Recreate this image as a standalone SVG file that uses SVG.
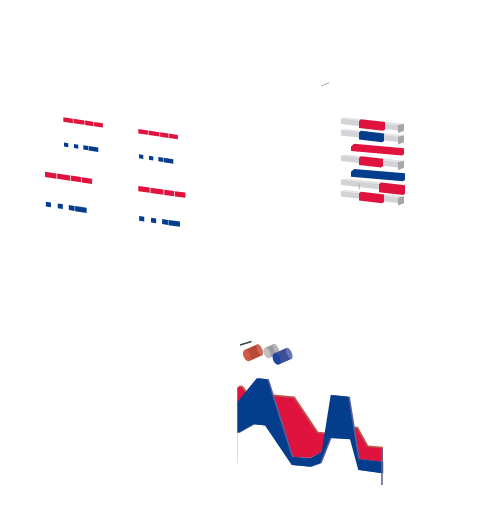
<svg xmlns="http://www.w3.org/2000/svg" width="481" height="508" viewBox="0 0 481 508">
<style>
.r{fill:#e0123e}
.b{fill:#033d8c}
.gf{fill:#d3d3d7}
.gt{fill:#e3e3e7}
.gs{fill:#a6a6ab}
.rt{fill:#ee4a68}
.bt{fill:#2a5aa8}
</style>
<defs>
<g id="dashset">
<rect class="r" x="0" y="0" width="9.6" height="4.4"/>
<rect class="r" x="10.2" y="0" width="11" height="4.4"/>
<rect class="r" x="21.8" y="0" width="8.4" height="4.4"/>
<rect class="r" x="30.8" y="0" width="8.8" height="4.4"/>
<rect class="b" x="0.7" y="25.2" width="4.3" height="4"/>
<rect class="b" x="10.7" y="25.2" width="4.3" height="4"/>
<rect class="b" x="20" y="25" width="4.9" height="4.2"/>
<rect class="b" x="25.3" y="25" width="9.7" height="4.4"/>
</g>
</defs>

<g id="cluster1"><use href="#dashset" transform="translate(63.3,117.3) skewY(8.5)"/></g>
<g id="cluster2"><use href="#dashset" transform="translate(138.3,129) skewY(8.5)"/></g>
<g id="cluster3"><use href="#dashset" transform="translate(45,171.7) skewY(8.5) scale(1.19)"/></g>
<g id="cluster4"><use href="#dashset" transform="translate(138.3,186) skewY(8) scale(1.19)"/></g>

<line x1="321" y1="86" x2="329.3" y2="82.7" stroke="#a8a8ac" stroke-width="1"/>

<g id="bars">
<g id="row1" transform="translate(341,118.5) skewY(6.5)">
<polygon class="gt" points="0,0 4,-1.5 63,-2 57,0"/>
<rect class="gf" x="0" y="0" width="57" height="5.5"/>
<polygon class="gs" points="57,0 63,-2 63,5 57,8"/>
<polygon class="r" points="20,-1.5 44,-1.5 44,6 42,7.5 18,7.5 18,0.5"/>
</g>
<g id="row2" transform="translate(341,130) skewY(6.5)">
<polygon class="gt" points="0,0 4,-1.5 63,-2 57,0"/>
<rect class="gf" x="0" y="0" width="57" height="5.5"/>
<polygon class="gs" points="57,0 63,-2 63,5 57,8"/>
<polygon class="b" points="20,-1.5 43,-1.5 43,6 41,7.5 18,7.5 18,0.5"/>
</g>
<g id="row3" transform="translate(341,142.5) skewY(5.2)">
<polygon class="r" points="13,0 63,0 63,6 61,7.5 10,7.5 10,3"/>
</g>
<g id="row4" transform="translate(341,155.5) skewY(6.5)">
<polygon class="gt" points="0,0 4,-1.5 63,-2 57,0"/>
<rect class="gf" x="0" y="0" width="57" height="5.5"/>
<polygon class="gs" points="57,0 63,-2 63,5 57,8"/>
<polygon class="r" points="20,-1.5 42,-1.5 42,6 40,7.5 18,7.5 18,0.5"/>
</g>
<g id="row5" transform="translate(341,168) skewY(4.8)">
<polygon class="b" points="13,0 64,0 64,6.5 62,8 10,8 10,3"/>
</g>
<g id="row6" transform="translate(341,179.5) skewY(6.5)">
<polygon class="gt" points="0,0 4,-1.5 63,-2 57,0"/>
<rect class="gf" x="0" y="0" width="57" height="5.5"/>
<line x1="18.3" y1="2" x2="18.3" y2="8" stroke="#a8a8ad" stroke-width="0.8"/>
<polygon class="r" points="40,-1.5 64,-1.5 64,7 62,8.5 38,8.5 38,0.5"/>
</g>
<g id="row7" transform="translate(341,191) skewY(6.5)">
<polygon class="gt" points="0,0 4,-1.5 63,-2 57,0"/>
<rect class="gf" x="0" y="0" width="57" height="5.5"/>
<polygon class="gs" points="57,0 63,-2 63,5 57,8"/>
<polygon class="r" points="20,-1.5 43,-1.5 43,6 41,7.5 18,7.5 18,0.5"/>
</g>
</g>

<g id="legend">
<line x1="240" y1="345" x2="251.5" y2="341.5" stroke="#2f4a3a" stroke-width="1.5"/>
<g transform="translate(247,355.5) rotate(-24)">
<rect x="0" y="-6" width="14" height="12" fill="#b94a37"/>
<ellipse cx="14" cy="0" rx="2.5" ry="6" fill="#c86a58"/>
<ellipse cx="0" cy="0" rx="3.5" ry="6" fill="#cf5a43"/>
</g>
<g transform="translate(267,353) rotate(-24)">
<rect x="0" y="-5.5" width="10" height="11" fill="#9c9ca0"/>
<ellipse cx="10" cy="0" rx="2.3" ry="5.5" fill="#b5b5b8"/>
<ellipse cx="0" cy="0" rx="3.2" ry="5.5" fill="#c0c0c3"/>
</g>
<g transform="translate(276.5,359) rotate(-24)">
<rect x="0" y="-6" width="14" height="12" fill="#3c4f98"/>
<ellipse cx="14" cy="0" rx="2.5" ry="6" fill="#6a76b0"/>
<ellipse cx="0" cy="0" rx="3.5" ry="6" fill="#1c44a0"/>
</g>
</g>

<g id="area">
<line x1="237.5" y1="387" x2="237.5" y2="463" stroke="#ead6dc" stroke-width="1"/>
<polygon fill="#bb5a4c" transform="translate(1.2,-1.5)" points="237.3,387.3 241.5,387.3 255,405 272.7,396 293.5,398 317,433.3 325,434 336,430 353.3,428.3 356.7,428.3 367,447 381.7,448.3 381.7,462 358,459 350,420 331,420 322,452 310,458 291.7,456.7 270,400 257,400 237.3,402"/>
<polygon class="r" points="237.3,387.3 241.5,387.3 255,405 272.7,396 293.5,398 317,433.3 325,434 336,430 353.3,428.3 356.7,428.3 367,447 381.7,448.3 381.7,462 358,459 350,420 331,420 322,452 310,458 291.7,456.7 270,400 257,400 237.3,402"/>
<polygon fill="#5d5f9e" transform="translate(1.6,0)" points="237.3,402 256.7,378.3 267.3,379.3 291.7,456.7 310,458.3 321.7,451.7 330.7,395 348.3,396.7 358.3,459 381.7,461.7 381.7,473.3 358.3,470 350,439.3 330,438 320,463.3 310,466.7 291.7,465 265,425.5 253.3,424.3 237.3,433.3"/>
<polygon class="b" points="237.3,402 256.7,378.3 267.3,379.3 291.7,456.7 310,458.3 321.7,451.7 330.7,395 348.3,396.7 358.3,459 381.7,461.7 381.7,473.3 358.3,470 350,439.3 330,438 320,463.3 310,466.7 291.7,465 265,425.5 253.3,424.3 237.3,433.3"/>
<line x1="382" y1="448" x2="382" y2="485" stroke="#5a5a8a" stroke-width="1.5"/>
</g>
</svg>
